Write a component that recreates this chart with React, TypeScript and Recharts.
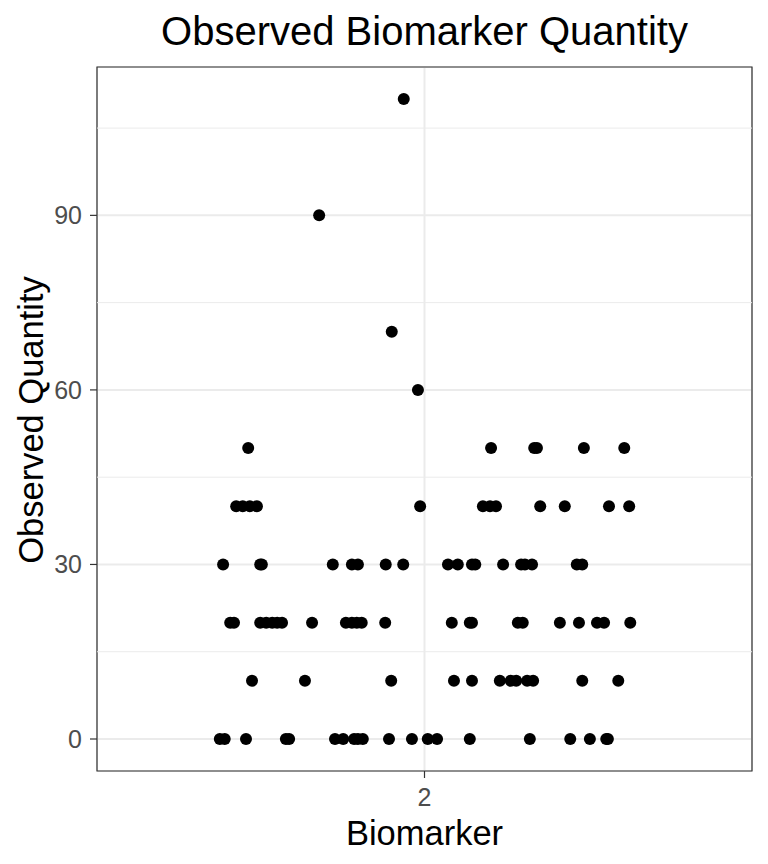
import React from 'react';
import {
  ScatterChart,
  Scatter,
  XAxis,
  YAxis,
  CartesianGrid,
  ReferenceLine,
  ReferenceArea,
} from 'recharts';

// Category (single biomarker level) and jittered horizontal offsets per observed quantity
const category = 2;
const jitterAt0 = [-0.375, -0.366, -0.327, -0.254, -0.248, -0.164, -0.149, -0.129, -0.122, -0.113, -0.065, -0.023, 0.006, 0.023, 0.083, 0.193, 0.267, 0.303, 0.333, 0.336];
const jitterAt10 = [-0.316, -0.219, -0.061, 0.054, 0.087, 0.138, 0.158, 0.168, 0.188, 0.199, 0.289, 0.355];
const jitterAt20 = [-0.356, -0.349, -0.301, -0.29, -0.279, -0.27, -0.261, -0.206, -0.144, -0.133, -0.124, -0.115, -0.072, 0.05, 0.083, 0.087, 0.171, 0.18, 0.248, 0.283, 0.316, 0.329, 0.377];
const jitterAt30 = [-0.369, -0.301, -0.298, -0.168, -0.133, -0.122, -0.071, -0.039, 0.043, 0.061, 0.087, 0.093, 0.144, 0.177, 0.184, 0.197, 0.279, 0.289];
const jitterAt40 = [-0.345, -0.333, -0.32, -0.307, -0.008, 0.107, 0.12, 0.131, 0.212, 0.257, 0.338, 0.375];
const jitterAt50 = [-0.323, 0.122, 0.201, 0.206, 0.292, 0.366];
const highQuantities = [60, 70, 90, 110];
const highJitter = [-0.012, -0.06, -0.193, -0.038];

const levelQuantities = [0, 10, 20, 30, 40, 50];
const levelJitters = [jitterAt0, jitterAt10, jitterAt20, jitterAt30, jitterAt40, jitterAt50];

const yTicks = [0, 30, 60, 90];
const yMinorTicks = [15, 45, 75, 105];
const xTicks = [2];
const yDomain: [number, number] = [-5.5, 115.5];
const xDomain: [number, number] = [1.4, 2.6];

const chartTitle = 'Observed Biomarker Quantity';
const xTitle = 'Biomarker';
const yTitle = 'Observed Quantity';

const points: { x: number; y: number }[] = [];
levelQuantities.forEach((q, i) => {
  levelJitters[i].forEach((j) => points.push({ x: category + j, y: q }));
});
highQuantities.forEach((q, i) => points.push({ x: category + highJitter[i], y: q }));

const FONT = '"Liberation Sans", Arial, Helvetica, sans-serif';

const Dot = (props: any) => {
  const { cx, cy } = props;
  if (cx == null || cy == null) return null;
  return <circle cx={cx} cy={cy} r={6} fill="#000000" />;
};

export default function App() {
  return (
    <div style={{ position: 'absolute', left: 0, top: 0, width: 768, height: 864, background: '#ffffff' }}>
      <ScatterChart
        width={768}
        height={864}
        margin={{ top: 67, right: 16, bottom: 0, left: 0 }}
      >
        <CartesianGrid stroke="#ebebeb" strokeWidth={2} />
        {yMinorTicks.map((v) => (
          <ReferenceLine key={v} y={v} stroke="#ebebeb" strokeWidth={1} />
        ))}
        <XAxis
          type="number"
          dataKey="x"
          domain={xDomain}
          ticks={xTicks}
          allowDataOverflow
          height={93}
          axisLine={false}
          tickSize={7}
          tickMargin={10}
          tickLine={{ stroke: '#333333', strokeWidth: 1.2 }}
          tick={{ fill: '#4d4d4d', fontSize: 25, fontFamily: FONT }}
        />
        <YAxis
          type="number"
          dataKey="y"
          domain={yDomain}
          ticks={yTicks}
          allowDataOverflow
          width={97}
          axisLine={false}
          tickSize={7}
          tickMargin={8}
          tickLine={{ stroke: '#333333', strokeWidth: 1.2 }}
          tick={{ fill: '#4d4d4d', fontSize: 25, fontFamily: FONT }}
        />
        <Scatter data={points} shape={Dot} isAnimationActive={false} />
        <ReferenceArea
          x1={xDomain[0]}
          x2={xDomain[1]}
          y1={yDomain[0]}
          y2={yDomain[1]}
          fill="none"
          fillOpacity={0}
          stroke="#333333"
          strokeWidth={1.2}
        />
      </ScatterChart>
      <svg
        width={768}
        height={864}
        style={{ position: 'absolute', left: 0, top: 0, pointerEvents: 'none' }}
      >
        <text x={424.5} y={45} textAnchor="middle" fontSize={40} fontFamily={FONT} fill="#000000">
          {chartTitle}
        </text>
        <text x={424.5} y={845} textAnchor="middle" fontSize={34.5} fontFamily={FONT} fill="#000000">
          {xTitle}
        </text>
        <text
          x={43}
          y={420}
          textAnchor="middle"
          fontSize={34.5}
          fontFamily={FONT}
          fill="#000000"
          transform="rotate(-90, 43, 420)"
        >
          {yTitle}
        </text>
      </svg>
    </div>
  );
}
